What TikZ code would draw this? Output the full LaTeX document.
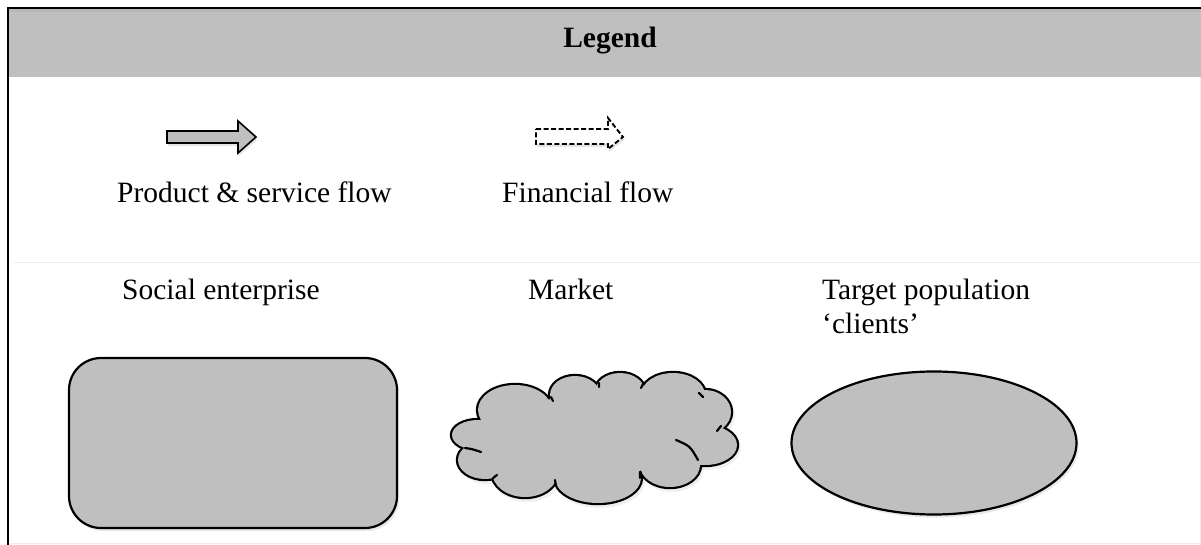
\documentclass[tikz,border=0pt]{standalone}
\usepackage{fontspec}
\setmainfont{Liberation Serif}
\usetikzlibrary{shapes.geometric,shadows}
\definecolor{shapegray}{HTML}{BFBFBF}
\definecolor{rulegray}{HTML}{EDEDED}
\tikzset{
  lbl/.style={anchor=base west, inner sep=0pt, font=\fontsize{29.5}{34}\selectfont},
  shapefill/.style={fill=shapegray, draw=black, line width=2.2pt,
    drop shadow={opacity=0.18, shadow xshift=2pt, shadow yshift=-3pt}},
  flowarrow/.style={line width=1.6pt, line join=miter}
}
% puffs of the market cloud: centre x / centre y / x radius / y radius
\def\cloudpuffs{515/410/37/25, 575/395/25/19, 620/392/25/19, 673/395/32/22,
  705/412/26/22, 705/445/32/20, 670/465/30/22, 598/478/43/25,
  525/472/33/25, 485/460/27/19, 478/435/26/15, 595/435/100/40}
\begin{document}
\begin{tikzpicture}[x=1pt, y=-1pt]
\useasboundingbox (0,0) rectangle (1201,545);
\fill[white] (0,0) rectangle (1201,545);

% header band and frame
\fill[shapegray] (9,9) rectangle (1201,77);
\fill[black!30, opacity=0.5] (9,9) rectangle (1201,12);
\draw[rulegray, line width=1pt] (14,262) -- (1201,262);
\draw[rulegray, line width=1pt] (10,543) -- (1201,543);
\draw[rulegray, line width=1pt] (1200,77) -- (1200,545);
\draw[black, line width=2.2pt] (8,545) -- (8,8) -- (1201,8);
\node[anchor=base, inner sep=0pt, font=\fontsize{29.5}{34}\selectfont\bfseries] (title) at (610,48) {Legend};

% legend arrows
\draw[flowarrow, fill=shapegray, drop shadow={opacity=0.2, shadow xshift=1pt, shadow yshift=-3pt}]
  (167,131) -- (238,131) -- (238,121) -- (256,137) -- (238,153) -- (238,143) -- (167,143) -- cycle;
\draw[flowarrow, line width=1.9pt, fill=white, dash pattern=on 5pt off 2.5pt, drop shadow={opacity=0.2, shadow xshift=1pt, shadow yshift=-3pt}]
  (536,129) -- (608,129) -- (608,118) -- (623,137) -- (608,149) -- (608,144) -- (536,144) -- cycle;

\node[lbl] (prodlbl) at (117,203) {Product \& service flow};
\node[lbl] (finlbl) at (502,203) {Financial flow};

% entity labels
\node[lbl] (selbl) at (122,299) {Social enterprise};
\node[lbl] (mktlbl) at (528,299) {Market};
\node[lbl, align=left] (tplbl) at (822,333) {Target population\\‘clients’};

% social enterprise box
\draw[shapefill, rounded corners=32pt] (69,358) rectangle (397,528);

% market cloud: soft shadow, a thick outline of every puff, then the fill on top
\foreach \cx/\cy/\rx/\ry in \cloudpuffs
  \fill[black, opacity=0.06] (\cx+2,\cy+3) ellipse [x radius=\rx+2, y radius=\ry+2];
\foreach \cx/\cy/\rx/\ry in \cloudpuffs
  \draw[black, line width=4.4pt] (\cx,\cy) ellipse [x radius=\rx, y radius=\ry];
\foreach \cx/\cy/\rx/\ry in \cloudpuffs
  \fill[shapegray] (\cx,\cy) ellipse [x radius=\rx, y radius=\ry];
\coordinate (market) at (594,437);
% inner strokes where the puffs overlap
\draw[line width=2.2pt, line cap=round]
  (465,448) .. controls (472,449) .. (481,452)
  (551,397) -- (553,401)
  (599,383) -- (599,387)
  (643,384) -- (641,388)
  (699,393) -- (703,397)
  (721,426) -- (717,431)
  (676,440) .. controls (690,446) .. (698,460)
  (640,478) -- (640,472)
  (556,486) -- (555,480)
  (493,478) -- (497,475);

% target population ellipse
\node[ellipse, shapefill, minimum width=285pt, minimum height=143pt] (clients) at (934,443) {};
\end{tikzpicture}
\end{document}
